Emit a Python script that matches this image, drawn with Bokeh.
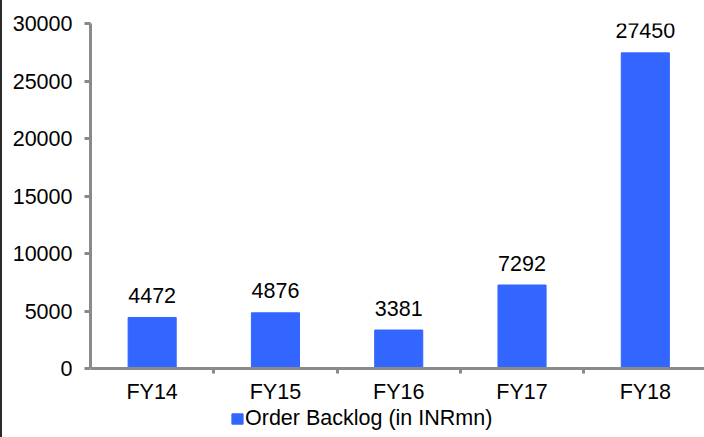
from bokeh.plotting import figure
from bokeh.models import (ColumnDataSource, Range1d, FixedTicker, Legend, LegendItem,
                          LinearAxis, Div)
from bokeh.layouts import row
from bokeh.core.properties import value
from bokeh.embed import file_html
from bokeh.resources import INLINE

# Order backlog by fiscal year (INR mn)
categories = ["FY14", "FY15", "FY16", "FY17", "FY18"]
backlog = [4472, 4876, 3381, 7292, 27450]
y_ticks = [0, 5000, 10000, 15000, 20000, 25000, 30000]
series_name = "Order Backlog (in INRmn)"

FONT = "Liberation Sans"
FONT_SIZE = "21.5px"
BAR_COLOR = "#3366FF"
AXIS_COLOR = "#8a8a8a"

x_pos = [i + 0.5 for i in range(len(categories))]
src = ColumnDataSource(dict(x=x_pos, top=backlog, label=[str(v) for v in backlog]))

# The frame runs down to the bottom edge so the legend can sit under the
# category axis; the range floor keeps zero at the axis line.
p = figure(width=702, height=437, output_backend="svg", toolbar_location=None,
           x_range=Range1d(0, 4.98), y_range=Range1d(-5950, 30000),
           min_border_left=88, min_border_right=0, min_border_top=23, min_border_bottom=0,
           x_axis_type=None, y_axis_type=None, margin=0)
p.outline_line_color = None
p.xgrid.visible = False
p.ygrid.visible = False
p.background_fill_color = "white"
p.border_fill_color = "white"

bars = p.vbar(x="x", top="top", width=0.39, bottom=0, source=src,
              fill_color=BAR_COLOR, line_color=BAR_COLOR)

p.text(x="x", y="top", text="label", source=src, text_align="center",
       text_baseline="alphabetic", y_offset=-22, text_font=value(FONT),
       text_font_size=FONT_SIZE, text_color="black")

# value axis
yaxis = LinearAxis(ticker=FixedTicker(ticks=y_ticks), bounds=(0, 30000))
yaxis.axis_line_color = AXIS_COLOR
yaxis.axis_line_width = 3
yaxis.major_tick_line_color = AXIS_COLOR
yaxis.major_tick_line_width = 3
yaxis.major_tick_out = 6
yaxis.major_tick_in = 0
yaxis.minor_tick_line_color = None
yaxis.major_label_standoff = 12
yaxis.major_label_text_font = FONT
yaxis.major_label_text_font_size = FONT_SIZE
yaxis.major_label_text_color = "black"
p.add_layout(yaxis, "left")

# category axis at zero: labels at bar centres, tick marks between categories
xaxis = LinearAxis(ticker=FixedTicker(ticks=x_pos, minor_ticks=[1, 2, 3, 4]),
                   fixed_location=0)
xaxis.major_label_overrides = {x: c for x, c in zip(x_pos, categories)}
xaxis.axis_line_color = AXIS_COLOR
xaxis.axis_line_width = 3
xaxis.major_tick_line_color = None
xaxis.major_tick_out = 0
xaxis.major_tick_in = 0
xaxis.minor_tick_line_color = AXIS_COLOR
xaxis.minor_tick_line_width = 3
xaxis.minor_tick_out = 5
xaxis.minor_tick_in = 0
xaxis.major_label_standoff = 6
xaxis.major_label_text_font = FONT
xaxis.major_label_text_font_size = FONT_SIZE
xaxis.major_label_text_color = "black"
p.add_layout(xaxis, "below")

legend = Legend(items=[LegendItem(label=series_name, renderers=[bars])],
                location=(140, 6), orientation="horizontal",
                padding=0, margin=0, spacing=0, label_standoff=1,
                glyph_width=14, glyph_height=13, label_height=13,
                border_line_color=None, background_fill_alpha=0,
                label_text_font=FONT, label_text_font_size=FONT_SIZE,
                label_text_color="black", label_text_baseline="middle")
p.add_layout(legend, "center")

edge = Div(width=2, height=437, margin=0, styles={"background-color": "#2b2b2b"})
layout = row(edge, p, spacing=0, margin=0)

html = file_html(layout, INLINE)
html = html.replace("</head>",
                    "<style>html, body { margin: 0; padding: 0; }</style>\n</head>", 1)
open("out.html", "w").write(html)
